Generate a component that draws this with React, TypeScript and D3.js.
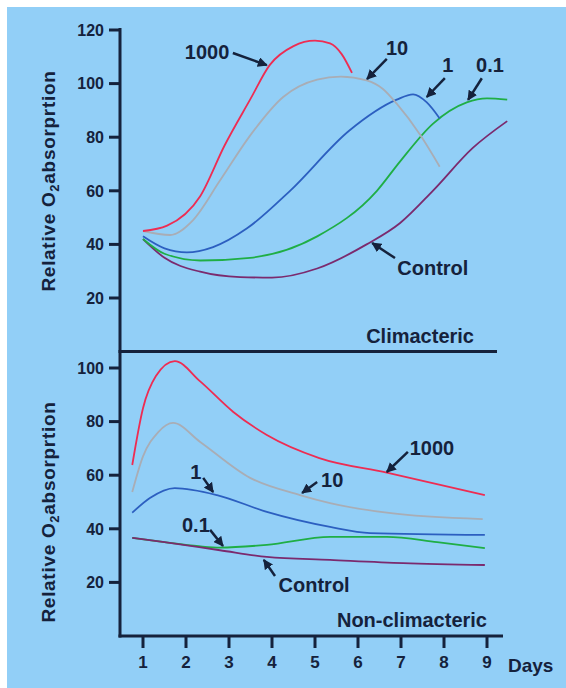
import * as d3 from "d3";

// [day, relative O2 absorption]
const topControl = [[1, 42], [1.5, 35], [2.33, 29.8], [3.26, 27.8], [4, 27.6], [5.05, 31], [6.2, 40], [6.98, 48], [7.74, 60], [8.67, 76], [9.47, 86]];
const topGreen = [[1, 42], [1.5, 36.5], [2.33, 34], [3.49, 35], [5.05, 43], [6.44, 60], [6.98, 71], [7.74, 85], [8.53, 93], [9.0, 94.5], [9.47, 94]];
const topBlue = [[1, 43], [1.5, 38.5], [2.02, 37], [2.63, 39], [3.42, 46], [4.42, 60], [5.8, 82.5], [6.9, 94], [7.28, 96], [7.6, 93], [7.9, 87]];
const topGray = [[1, 45], [1.63, 43.5], [2.16, 49], [2.79, 63.8], [3.49, 80.6], [4.26, 95], [5.05, 101.5], [5.6, 102.6], [6.2, 101.2], [6.58, 98], [6.9, 92.5], [7.44, 81], [7.9, 69]];
const topRed = [[1, 45], [1.56, 47], [2.33, 58], [2.9, 77], [3.49, 94], [3.95, 107], [4.5, 114], [5.0, 116], [5.35, 115], [5.62, 111], [5.86, 104]];

const botControl = [[0.75, 36.6], [1.5, 35], [2.79, 32], [3.88, 29.5], [5.35, 28.4], [7.05, 27.2], [8.95, 26.5]];
const botGreen = [[0.75, 36.6], [1.5, 35], [2.3, 33.5], [2.79, 33], [3.88, 34], [5.35, 37], [6.67, 37], [7.84, 35], [8.95, 32.8]];
const botBlue = [[0.75, 46], [1.16, 51.5], [1.74, 55.2], [2.72, 52.6], [3.88, 46.3], [5.35, 40.7], [6.28, 38.4], [8.95, 37.7]];
const botGray = [[0.75, 53.7], [1.0, 67], [1.35, 76], [1.7, 79.5], [2.33, 72.4], [3.49, 59], [4.65, 52.6], [5.35, 49.6], [6.67, 46], [8.9, 43.6]];
const botRed = [[0.75, 63.8], [1.0, 85], [1.3, 97], [1.74, 102.6], [2.33, 95], [3.1, 83.6], [3.88, 75], [5.1, 66.4], [6.67, 61], [8.95, 52.6]];

const topTicks = [20, 40, 60, 80, 100, 120];
const botTicks = [20, 40, 60, 80, 100];
const dayTicks = [1, 2, 3, 4, 5, 6, 7, 8, 9];

// label, text position [day, value], arrow tail, arrow tip
const topNotes = [
  { label: "1000", at: [2.49, 111.8], from: [3.09, 111.4], to: [3.88, 106.9] },
  { label: "10", at: [6.91, 113.3], from: [6.67, 109.2], to: [6.21, 101.7] },
  { label: "1", at: [8.09, 107], from: [8.02, 102], to: [7.6, 95] },
  { label: "0.1", at: [9.07, 107], from: [8.88, 102], to: [8.56, 93.9] },
  { label: "Control", at: [7.74, 31.2], from: [6.86, 34.9], to: [6.33, 40.5] },
];
const botNotes = [
  { label: "1000", at: [7.72, 70.1], from: [7.16, 68.7], to: [6.67, 61.2] },
  { label: "10", at: [5.4, 58.2], from: [5.05, 57.5], to: [4.7, 53.4] },
  { label: "1", at: [2.23, 61.2], from: [2.4, 59], to: [2.63, 53.7] },
  { label: "0.1", at: [2.23, 41.4], from: [2.56, 39.6], to: [2.86, 33.6] },
  { label: "Control", at: [4.98, 19], from: [4.07, 22.4], to: [3.81, 28.4] },
];

const BG = "#92cff7";
const INK = "#15223c";
const FONT = "'Liberation Sans', Arial, sans-serif";

export default function App() {
  const x = d3.scaleLinear().domain([1, 9]).range([143, 487]);
  const yTop = d3.scaleLinear().domain([0, 120]).range([351.6, 30]);
  const yBot = d3.scaleLinear().domain([0, 100]).range([636, 368]);

  const mkLine = (y) =>
    d3
      .line()
      .x((d) => x(d[0]))
      .y((d) => y(d[1]))
      .curve(d3.curveMonotoneX);

  const topSeries = [
    [topControl, "#7b2a6e"],
    [topGreen, "#1fae45"],
    [topBlue, "#2c5fc0"],
    [topGray, "#a9adb5"],
    [topRed, "#ee2c52"],
  ];
  const botSeries = [
    [botGreen, "#1fae45"],
    [botControl, "#7b2a6e"],
    [botBlue, "#2c5fc0"],
    [botGray, "#a9adb5"],
    [botRed, "#ee2c52"],
  ];

  const arrow = (n, y, i, key) => (
    <g key={key + i}>
      <line x1={x(n.from[0])} y1={y(n.from[1])} x2={x(n.to[0])} y2={y(n.to[1])}
        stroke={INK} strokeWidth={2.5} markerEnd="url(#head)" />
      <text x={x(n.at[0])} y={y(n.at[1])} dy="0.36em" textAnchor="middle"
        fontSize={20} fontWeight="bold" fill={INK}>{n.label}</text>
    </g>
  );

  const yTitle = (cy) => (
    <text transform={`translate(55,${cy}) rotate(-90)`} textAnchor="middle"
      fontSize={19} fontWeight="bold" fill={INK} letterSpacing={0.7}>
      Relative O<tspan fontSize={13} dy={4}>2</tspan><tspan dy={-4}>absorprtion</tspan>
    </text>
  );

  return (
    <svg width={566} height={688} style={{ position: "absolute", left: 0, top: 0 }} fontFamily={FONT}>
      <defs>
        <marker id="head" viewBox="0 0 10 10" refX="9" refY="5" markerWidth="4" markerHeight="4"
          orient="auto" markerUnits="strokeWidth">
          <path d="M0,0 L10,5 L0,10 z" fill={INK} />
        </marker>
      </defs>
      <rect x={7} y={7} width={559} height={681} fill={BG} />

      {topSeries.map(([d, c], i) => (
        <path key={"t" + i} d={mkLine(yTop)(d)} fill="none" stroke={c} strokeWidth={1.8} />
      ))}
      {botSeries.map(([d, c], i) => (
        <path key={"b" + i} d={mkLine(yBot)(d)} fill="none" stroke={c} strokeWidth={1.8} />
      ))}

      {/* axes */}
      <line x1={120} y1={28} x2={120} y2={637.5} stroke={INK} strokeWidth={3} />
      <line x1={118.5} y1={351.5} x2={497} y2={351.5} stroke={INK} strokeWidth={3} />
      <line x1={118.5} y1={636} x2={503} y2={636} stroke={INK} strokeWidth={3} />

      {topTicks.map((t) => (
        <g key={"yt" + t}>
          <line x1={109} x2={120} y1={yTop(t)} y2={yTop(t)} stroke={INK} strokeWidth={3} />
          <text x={104} y={yTop(t)} dy="0.36em" textAnchor="end" fontSize={16} fontWeight="bold" fill={INK}>{t}</text>
        </g>
      ))}
      {botTicks.map((t) => (
        <g key={"yb" + t}>
          <line x1={109} x2={120} y1={yBot(t)} y2={yBot(t)} stroke={INK} strokeWidth={3} />
          <text x={104} y={yBot(t)} dy="0.36em" textAnchor="end" fontSize={16} fontWeight="bold" fill={INK}>{t}</text>
        </g>
      ))}
      {dayTicks.map((t) => (
        <g key={"x" + t}>
          <line x1={x(t)} x2={x(t)} y1={636} y2={648} stroke={INK} strokeWidth={3} />
          <text x={x(t)} y={668} textAnchor="middle" fontSize={17} fontWeight="bold" fill={INK}>{t}</text>
        </g>
      ))}
      <text x={508} y={672} fontSize={19} fontWeight="bold" fill={INK}>Days</text>

      {yTitle(181)}
      {yTitle(512)}

      {topNotes.map((n, i) => arrow(n, yTop, i, "tn"))}
      {botNotes.map((n, i) => arrow(n, yBot, i, "bn"))}

      <text x={474} y={343} textAnchor="end" fontSize={20} fontWeight="bold" fill={INK}>Climacteric</text>
      <text x={487} y={627} textAnchor="end" fontSize={20} fontWeight="bold" fill={INK}>Non-climacteric</text>
    </svg>
  );
}
